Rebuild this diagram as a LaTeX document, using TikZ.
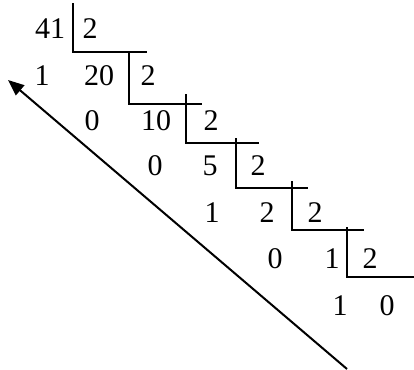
\documentclass[tikz,border=0pt]{standalone}
\usepackage{fontspec}
\setmainfont{Liberation Serif}
\usetikzlibrary{arrows.meta}
\begin{document}
\begin{tikzpicture}[x=1pt,y=-1pt,
  num/.style={inner sep=0pt,anchor=base,font=\fontsize{30}{33}\selectfont},
  bracket/.style={line width=2pt,line cap=rect},
  arr/.style={line width=2pt,-{Triangle[length=16pt,width=13pt]}}]
\useasboundingbox (0,0) rectangle (414,369);
% row 1
\node[num] (a1) at (50,38) {41};
\node[num] (b1) at (90,38) {2};
% row 2
\node[num] (r1) at (42,85) {1};
\node[num] (a2) at (99,85) {20};
\node[num] (b2) at (148,85) {2};
% row 3
\node[num] (r2) at (92,130) {0};
\node[num] (a3) at (156,130) {10};
\node[num] (b3) at (211,130) {2};
% row 4
\node[num] (r3) at (155,175) {0};
\node[num] (a4) at (210,175) {5};
\node[num] (b4) at (258,175) {2};
% row 5
\node[num] (r4) at (212,222) {1};
\node[num] (a5) at (267,222) {2};
\node[num] (b5) at (315,222) {2};
% row 6
\node[num] (r5) at (275,268) {0};
\node[num] (a6) at (332,268) {1};
\node[num] (b6) at (370,268) {2};
% row 7
\node[num] (r6) at (340,315) {1};
\node[num] (a7) at (387,315) {0};
% division brackets
\draw[bracket] (73,4) -- (73,52) -- (146,52);
\draw[bracket] (129,54) -- (129,104) -- (201,104);
\draw[bracket] (186,95) -- (186,143) -- (258,143);
\draw[bracket] (236,139) -- (236,188) -- (307,188);
\draw[bracket] (292,182) -- (292,230) -- (363,230);
\draw[bracket] (347,228) -- (347,277) -- (414,277);
% arrow
\coordinate (as) at (347,369);
\coordinate (ae) at (8,80);
\draw[arr] (as) -- (ae);
\end{tikzpicture}
\end{document}
